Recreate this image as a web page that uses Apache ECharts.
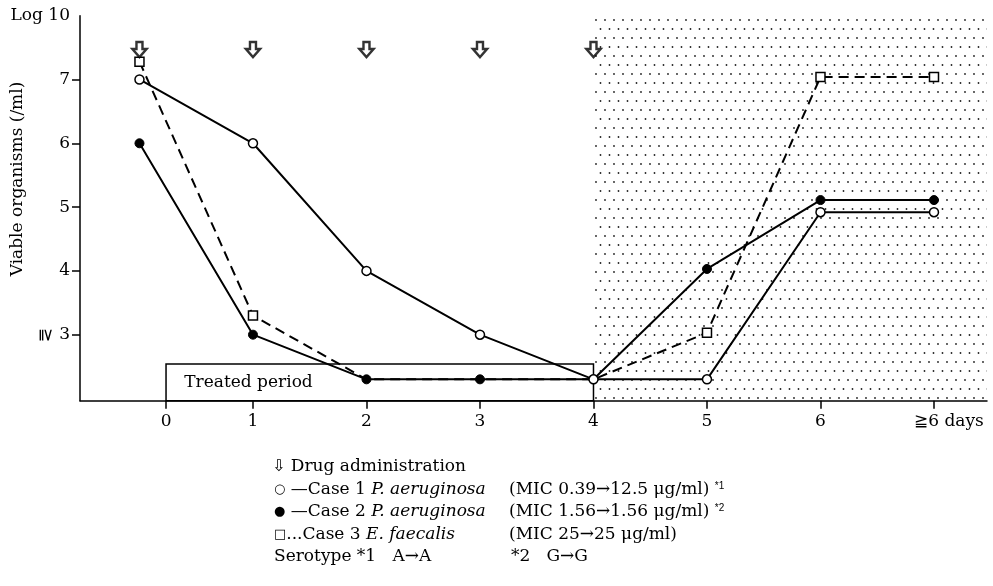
<!DOCTYPE html>
<html>
<head>
<meta charset="utf-8">
<script src="https://cdn.jsdelivr.net/npm/echarts@6/dist/echarts.min.js"></script>
<style>
html, body { margin: 0; background: #fff; }
#main { width: 993px; height: 586px; }
</style>
</head>
<body>
<div id="main"></div>
<script>
// x scale: 1 unit = 1 day, first sample plotted at 0 ("≧6 days" at 7)
var days = [0, 1, 2, 3, 4, 5, 6, 7];
// Log10 viable organisms (/ml)
var case1 = [7.0, 6.0, 4.0, 3.0, 2.3, 2.3, 4.92, 4.92];
var case2 = [6.0, 3.0, 2.3, 2.3, 2.3, 4.03, 5.11, 5.11];
var case3 = [7.28, 3.3, 2.3, 2.3, 2.3, 3.03, 7.04, 7.04];
var case3Marked = [1, 1, 0, 0, 0, 1, 1, 1];
// drug administration arrows
var doseDays = [0, 1, 2, 3, 4];
var doseLevel = 7.47;
// axes
var xTicks = [0.234, 1, 2, 3, 4, 5, 6, 7];
var xLabels = ['0', '1', '2', '3', '4', '5', '6', '≧6 days'];
var yTicks = [3, 4, 5, 6, 7, 8];
var yLabels = ['3', '4', '5', '6', '7', 'Log 10'];
var xMin = -0.524, xMax = 7.467, yMin = 1.965, yMax = 8;
// treated period box and regrowth (dotted) zone
var treatedFrom = 0.234, treatedTo = 4, treatedTop = 2.54;
var regrowthFrom = 4;

var serif = 'DejaVu Serif';

// petit motif de points pour la zone hachurée
function dotPattern() {
	var c = document.createElement('canvas');
	c.width = 18;
	c.height = 18;
	var ctx = c.getContext('2d');
	ctx.fillStyle = '#222';
	[[2, 2], [11, 2], [6.5, 11], [15.5, 11]].forEach(function(p) {
		ctx.beginPath();
		ctx.arc(p[0], p[1], 0.9, 0, Math.PI * 2);
		ctx.fill();
	});
	return c;
}

function pairs(ys) {
	return days.map(function(d, i) { return [d, ys[i]]; });
}

var case3Data = days.map(function(d, i) {
	return { value: [d, case3[i]], symbolSize: case3Marked[i] ? 9 : 0 };
});

var myChart = echarts.init(document.getElementById('main'));

var symStyle = { fontFamily: 'DejaVu Sans', fontSize: 13 };
var itStyle = { fontFamily: serif, fontStyle: 'italic', fontSize: 17 };

var option = {
	animation: false,
	backgroundColor: '#fff',
	grid: { left: 80, right: 6, top: 15.7, bottom: 185.3 },
	xAxis: {
		type: 'value',
		min: xMin,
		max: xMax,
		splitLine: { show: false },
		axisLine: { onZero: false, lineStyle: { color: '#000', width: 1.5 } },
		axisTick: { customValues: xTicks, length: 8, lineStyle: { color: '#000', width: 1.5 } },
		axisLabel: {
			customValues: xTicks,
			margin: 12,
			color: '#000',
			fontFamily: serif,
			fontSize: 17,
			formatter: function(v) {
				var i = xTicks.indexOf(v);
				if (i === xTicks.length - 1) return '{d|' + xLabels[i] + '}';
				return xLabels[i];
			},
			rich: { d: { fontFamily: serif, fontSize: 17, color: '#000', padding: [0, 0, 0, 30] } }
		}
	},
	yAxis: {
		type: 'value',
		min: yMin,
		max: yMax,
		splitLine: { show: false },
		axisLine: { onZero: false, lineStyle: { color: '#000', width: 1.5 } },
		axisTick: { customValues: yTicks.slice(0, 5), length: 8, lineStyle: { color: '#000', width: 1.5 } },
		axisLabel: {
			customValues: yTicks,
			margin: 10,
			color: '#000',
			fontFamily: serif,
			fontSize: 17,
			formatter: function(v) {
				return yLabels[yTicks.indexOf(v)];
			}
		}
	},
	graphic: [
		{ type: 'text', x: 18, y: 179, rotation: Math.PI / 2,
			style: { text: 'Viable organisms (/ml)', fontFamily: serif, fontSize: 17, fill: '#000', align: 'center', verticalAlign: 'middle' } },
		{ type: 'text', x: 45, y: 335, rotation: -Math.PI / 2,
			style: { text: '≧', fontFamily: serif, fontSize: 17, fill: '#000', align: 'center', verticalAlign: 'middle' } },
		{ type: 'text', left: 272, top: 458,
			style: {
				text: '{ar|⇩} Drug administration',
				fontFamily: serif, fontSize: 17, fill: '#000',
				rich: { ar: { fontFamily: 'DejaVu Sans', fontSize: 16 } }
			} },
		{ type: 'text', left: 274, top: 481,
			style: {
				text: '{s|○} —Case 1 {i|P. aeruginosa}',
				fontFamily: serif, fontSize: 17, fill: '#000',
				rich: { s: symStyle, i: itStyle }
			} },
		{ type: 'text', left: 274, top: 503,
			style: {
				text: '{s|●} —Case 2 {i|P. aeruginosa}',
				fontFamily: serif, fontSize: 17, fill: '#000',
				rich: { s: symStyle, i: itStyle }
			} },
		{ type: 'text', left: 274, top: 526,
			style: {
				text: '{s|□}...Case 3 {i|E. faecalis}',
				fontFamily: serif, fontSize: 17, fill: '#000',
				rich: { s: symStyle, i: itStyle }
			} },
		{ type: 'text', left: 274, top: 548,
			style: { text: 'Serotype *1   A→A', fontFamily: serif, fontSize: 17, fill: '#000' } },
		{ type: 'text', left: 509, top: 481,
			style: {
				text: '(MIC 0.39→12.5 μg/ml) {sup|*1}',
				fontFamily: serif, fontSize: 17, fill: '#000',
				rich: { sup: { fontSize: 10, verticalAlign: 'top' } }
			} },
		{ type: 'text', left: 509, top: 503,
			style: {
				text: '(MIC 1.56→1.56 μg/ml) {sup|*2}',
				fontFamily: serif, fontSize: 17, fill: '#000',
				rich: { sup: { fontSize: 10, verticalAlign: 'top' } }
			} },
		{ type: 'text', left: 509, top: 526,
			style: { text: '(MIC 25→25 μg/ml)', fontFamily: serif, fontSize: 17, fill: '#000' } },
		{ type: 'text', left: 511, top: 548,
			style: { text: '*2   G→G', fontFamily: serif, fontSize: 17, fill: '#000' } }
	],
	series: [
		{
			// zones : période traitée + repousse (pointillés)
			name: 'zones',
			type: 'line',
			data: [],
			z: 1,
			markArea: {
				silent: true,
				data: [
					[{ xAxis: regrowthFrom, yAxis: yMin, itemStyle: { color: { image: dotPattern(), repeat: 'repeat' } } },
						{ xAxis: xMax, yAxis: yMax }],
					[{ xAxis: treatedFrom, yAxis: yMin,
						itemStyle: { color: 'rgba(0,0,0,0)', borderColor: '#000', borderWidth: 1.5 },
						label: { show: true, position: 'insideLeft', distance: 19, formatter: 'Treated period',
							color: '#000', fontFamily: serif, fontSize: 17 } },
						{ xAxis: treatedTo, yAxis: treatedTop }]
				]
			}
		},
		{
			name: 'Case 3',
			type: 'line',
			z: 3,
			data: case3Data,
			symbol: 'rect',
			lineStyle: { color: '#000', width: 2, type: [10, 6] },
			itemStyle: { color: '#fff', borderColor: '#000', borderWidth: 1.5 }
		},
		{
			name: 'Case 2',
			type: 'line',
			z: 4,
			data: pairs(case2),
			symbol: 'circle',
			symbolSize: 9,
			lineStyle: { color: '#000', width: 2 },
			itemStyle: { color: '#000', borderColor: '#000', borderWidth: 1 }
		},
		{
			name: 'Case 1',
			type: 'line',
			z: 5,
			data: pairs(case1),
			symbol: 'circle',
			symbolSize: 9,
			lineStyle: { color: '#000', width: 2 },
			itemStyle: { color: '#fff', borderColor: '#000', borderWidth: 1.5 }
		},
		{
			name: 'Drug administration',
			type: 'scatter',
			z: 6,
			data: doseDays.map(function(d) { return [d, doseLevel]; }),
			symbol: 'path://M4,0 L10,0 L10,7 L14,7 L7,15 L0,7 L4,7 Z',
			symbolSize: [14, 15],
			itemStyle: { color: '#fff', borderColor: '#000', borderWidth: 2.5 }
		}
	]
};

myChart.setOption(option);
</script>
</body>
</html>
